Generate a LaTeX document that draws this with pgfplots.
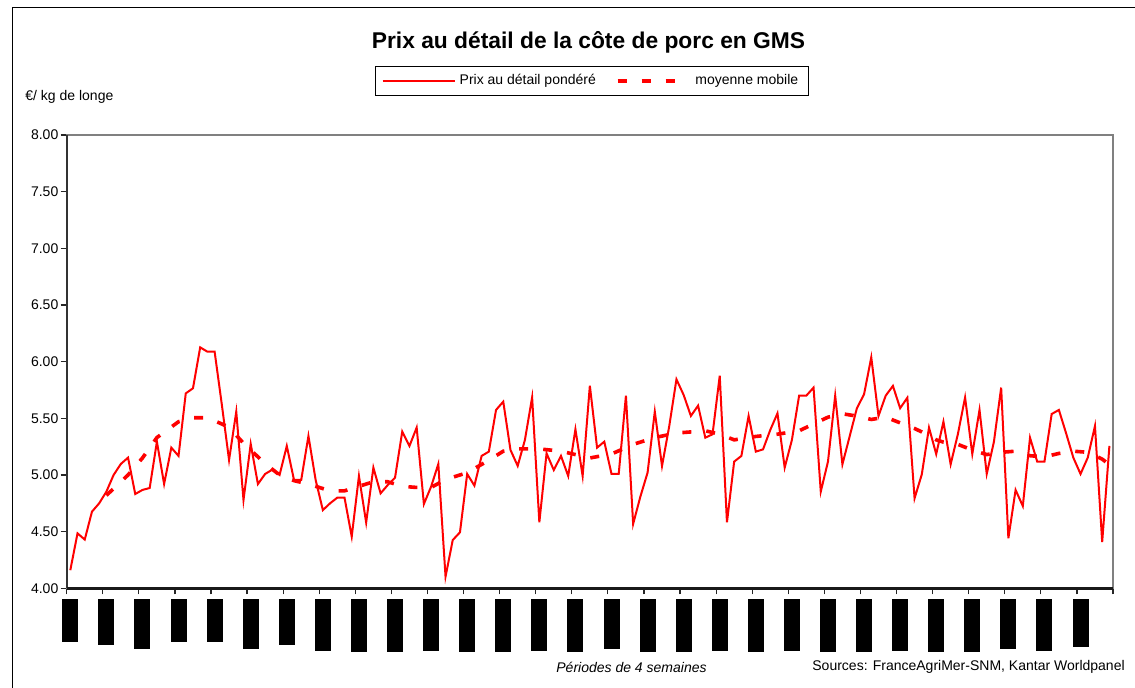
\documentclass[border=0pt]{standalone}
\usepackage{fontspec}
\setmainfont{Liberation Sans}
\usepackage{pgfplots}
\usepackage{pgfplotstable}
\pgfplotsset{compat=1.18}
\pgfplotstableread{
x y
0 4.16
1 4.485
2 4.43
3 4.676
4 4.75
5 4.853
6 5.00
7 5.097
8 5.153
9 4.832
10 4.868
11 4.885
12 5.294
13 4.92
14 5.241
15 5.168
16 5.72
17 5.765
18 6.126
19 6.088
20 6.088
21 5.62
22 5.132
23 5.559
24 4.779
25 5.274
26 4.92
27 5.009
28 5.047
29 5.00
30 5.256
31 4.956
32 4.956
33 5.344
34 4.956
35 4.69
36 4.75
37 4.80
38 4.80
39 4.456
40 4.991
41 4.58
42 5.065
43 4.838
44 4.912
45 4.976
46 5.382
47 5.256
48 5.418
49 4.744
50 4.897
51 5.097
52 4.103
53 4.426
54 4.494
55 5.009
56 4.906
57 5.168
58 5.206
59 5.574
60 5.647
61 5.221
62 5.08
63 5.309
64 5.685
65 4.582
66 5.191
67 5.044
68 5.168
69 4.991
70 5.403
71 4.991
72 5.788
73 5.241
74 5.294
75 5.009
76 5.009
77 5.70
78 4.568
79 4.809
80 5.021
81 5.559
82 5.079
83 5.43
84 5.844
85 5.706
86 5.521
87 5.612
88 5.329
89 5.359
90 5.876
91 4.582
92 5.118
93 5.168
94 5.521
95 5.206
96 5.226
97 5.397
98 5.544
99 5.065
100 5.309
101 5.70
102 5.70
103 5.771
104 4.853
105 5.118
106 5.70
107 5.094
108 5.34
109 5.588
110 5.712
111 6.038
112 5.521
113 5.70
114 5.786
115 5.589
116 5.682
117 4.794
118 5.005
119 5.418
120 5.184
121 5.47
122 5.094
123 5.36
124 5.684
125 5.185
126 5.574
127 5.009
128 5.294
129 5.771
130 4.441
131 4.868
132 4.726
133 5.329
134 5.117
135 5.117
136 5.538
137 5.574
138 5.368
139 5.153
140 5.009
141 5.153
142 5.432
143 4.409
144 5.256
}\price
\pgfplotstableread{
x y
5 4.82
8 5.00
10 5.15
12 5.33
15 5.47
17 5.505
19 5.505
21 5.45
22 5.42
24 5.28
27 5.10
29 5.00
31 4.95
33 4.92
36 4.86
38 4.86
40 4.90
42 4.94
44 4.94
46 4.90
48 4.89
50 4.89
52 4.96
55 5.02
58 5.13
60 5.21
62 5.23
65 5.23
68 5.21
70 5.18
72 5.15
75 5.185
78 5.27
81 5.33
84 5.37
86 5.38
88 5.39
90 5.36
92 5.31
95 5.34
98 5.36
101 5.39
103 5.45
105 5.51
107 5.54
109 5.52
111 5.49
113 5.51
115 5.46
117 5.41
118 5.38
120 5.31
121 5.29
123 5.27
125 5.22
127 5.18
129 5.20
131 5.21
133 5.17
135 5.16
137 5.19
139 5.21
141 5.20
143 5.14
144 5.09
}\mavg
\begin{document}
\begin{tikzpicture}
\useasboundingbox (0,0) rectangle (567.5pt,343.5pt);
\begin{axis}[
  at={(33.35pt,49.35pt)}, anchor=south west,
  scale only axis, width=523.15pt, height=226.65pt,
  xmin=-0.5, xmax=144.5, ymin=4, ymax=8,
  xtick pos=bottom, ytick pos=left,
  xtick={-0.5,4.5,...,144.5}, xticklabels={},
  extra x ticks={0,5,...,140},
  extra x tick labels={{\rule{8pt}{21.85pt}},{\rule{8pt}{23pt}},{\rule{8pt}{25pt}},{\rule{8pt}{21.85pt}},{\rule{8pt}{21.85pt}},{\rule{8pt}{25pt}},{\rule{8pt}{23pt}},{\rule{8pt}{26pt}},{\rule{8pt}{26.85pt}},{\rule{8pt}{26.85pt}},{\rule{8pt}{26pt}},{\rule{8pt}{26.85pt}},{\rule{8pt}{26.85pt}},{\rule{8pt}{26pt}},{\rule{8pt}{26.85pt}},{\rule{8pt}{25pt}},{\rule{8pt}{26.85pt}},{\rule{8pt}{26.85pt}},{\rule{8pt}{26pt}},{\rule{8pt}{26.85pt}},{\rule{8pt}{26pt}},{\rule{8pt}{26.85pt}},{\rule{8pt}{26.85pt}},{\rule{8pt}{26pt}},{\rule{8pt}{26.85pt}},{\rule{8pt}{26.85pt}},{\rule{8pt}{25pt}},{\rule{8pt}{26pt}},{\rule{8pt}{24pt}}},
  extra x tick style={major tick length=0pt, xtick pos=bottom, xticklabel style={anchor=north, inner sep=0pt, yshift=-5pt}},
  ytick={4,4.5,5,5.5,6,6.5,7,7.5,8},
  /pgf/number format/assume math mode=true,
  yticklabel style={/pgf/number format/fixed, /pgf/number format/precision=2, /pgf/number format/fixed zerofill, font=\fontsize{7}{8}\selectfont, inner sep=1pt},
  tick align=outside, major tick length=3pt,
  tick style={black!85, line width=0.6pt},
  axis line style={draw=gray, line width=1pt},
  legend style={at={(0.502,1.152)}, anchor=north, legend columns=2, draw=black, line width=0.5pt, font=\fontsize{7}{8}\selectfont, inner xsep=3pt, inner ysep=2pt, /tikz/every even column/.append style={column sep=8pt}},
  legend image code/.code={\draw[#1] (0pt,0pt) -- (36pt,0pt);},
  after end axis/.code={
    \draw[black!80, line width=1pt] (rel axis cs:0,1) -- (rel axis cs:0,0);
    \draw[black!90, line width=1.2pt] (rel axis cs:0,0) -- (rel axis cs:1,0);
  },
]
\addplot[red, line width=1pt] table[x=x,y=y]{\price};
\addplot[red, line width=1.8pt, dash pattern=on 4.5pt off 7.5pt] table[x=x,y=y]{\mavg};
\legend{Prix au détail pondéré, moyenne mobile}
\end{axis}
\begin{scope}[yshift=343.5pt, x=0.5pt, y=-0.5pt]
\draw[line width=0.7pt] (12.7,7.3) rectangle (1150,710);
\node[font=\fontsize{11.4}{13}\selectfont\bfseries] at (588.5,42) {Prix au détail de la côte de porc en GMS};
\node[anchor=west, inner sep=0pt, font=\fontsize{7}{8}\selectfont] at (25,97) {€/ kg de longe};
\node[font=\fontsize{7}{8}\selectfont\itshape] at (631.5,667) {Périodes de 4 semaines};
\node[anchor=west, inner sep=0pt, font=\fontsize{7}{8}\selectfont] at (812,667) {Sources: FranceAgriMer-SNM, Kantar Worldpanel};
\end{scope}
\end{tikzpicture}
\end{document}
